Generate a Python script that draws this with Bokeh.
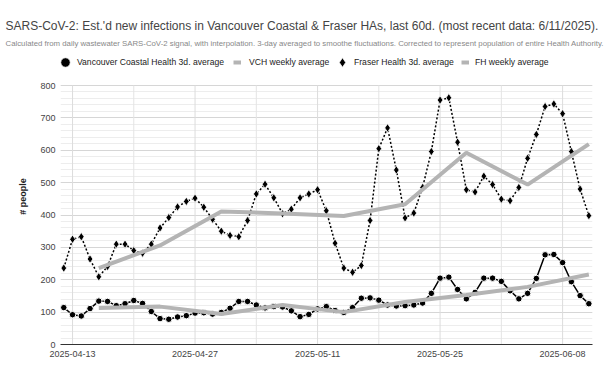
import pandas as pd
from bokeh.plotting import figure
from bokeh.models import (ColumnDataSource, Range1d, FixedTicker, DatetimeTickFormatter,
                          SingleIntervalTicker, Legend, LegendItem, Title)
from bokeh.embed import file_html
from bokeh.resources import INLINE

# ---------------- data ----------------
start_date = "2025-04-12"
n_days = 61
vch_3d = [114, 92, 88, 111, 134, 133, 120, 126, 136, 127,
          102, 80, 78, 85, 89, 97, 98, 94, 99, 112,
          133, 133, 122, 113, 117, 116, 104, 86, 93, 110,
          117, 105, 99, 114, 143, 144, 137, 122, 119, 120,
          122, 128, 158, 205, 208, 170, 141, 161, 205, 205,
          195, 166, 141, 158, 204, 277, 278, 253, 194, 151, 126]
fh_3d = [236, 325, 333, 264, 209, 241, 310, 310, 290, 282,
         310, 360, 392, 425, 442, 452, 424, 387, 350, 337,
         333, 383, 465, 495, 453, 404, 418, 453, 465, 478,
         413, 313, 236, 223, 244, 383, 605, 669, 539, 391,
         406, 485, 596, 755, 762, 625, 478, 471, 520, 494,
         449, 444, 485, 575, 649, 735, 743, 713, 596, 480, 398]
weekly_dates = ["2025-04-16", "2025-04-23", "2025-04-30", "2025-05-07", "2025-05-14",
                "2025-05-21", "2025-05-28", "2025-06-04", "2025-06-11"]
vch_weekly = [113, 117, 94, 122, 100, 131, 153, 178, 216]
fh_weekly = [236, 306, 411, 405, 397, 433, 592, 494, 619]
tick_dates = ["2025-04-13", "2025-04-27", "2025-05-11", "2025-05-25", "2025-06-08"]
minor_tick_dates = ["2025-04-20", "2025-05-04", "2025-05-18", "2025-06-01"]
y_max = 800

title_text = ("SARS-CoV-2: Est.'d new infections in Vancouver Coastal & Fraser HAs, "
              "last 60d. (most recent data: 6/11/2025).")
subtitle_text = ("Calculated from daily wastewater SARS-CoV-2 signal, with interpolation. "
                 "3-day averaged to smoothe fluctuations. Corrected to represent population "
                 "of entire Health Authority.")
legend_labels = ["Vancouver Coastal Health 3d. average", "VCH weekly average",
                 "Fraser Health 3d. average", "FH weekly average"]
y_label = "# people"

# ---------------- sources ----------------
dates = pd.date_range(start_date, periods=n_days, freq="D")
daily = ColumnDataSource(dict(date=dates, vch=vch_3d, fh=fh_3d))
weekly = ColumnDataSource(dict(date=pd.to_datetime(weekly_dates), vch=vch_weekly, fh=fh_weekly))
vgrid_major = ColumnDataSource(dict(x=pd.to_datetime(tick_dates),
                                    y0=[0] * len(tick_dates), y1=[y_max] * len(tick_dates)))
vgrid_minor = ColumnDataSource(dict(x=pd.to_datetime(minor_tick_dates),
                                    y0=[0] * len(minor_tick_dates),
                                    y1=[y_max] * len(minor_tick_dates)))

def ms(d):
    return pd.Timestamp(d).value // 10**6

FONT = "Liberation Sans"
GRAY = "#b4b4b4"

# layout in pixels: plot area from y=85 (800) to y=344 (0); frame extended up to y=48
FRAME_TOP, DATA_TOP, FRAME_BOTTOM = 48, 85, 344
y_top = y_max * (FRAME_BOTTOM - FRAME_TOP) / (FRAME_BOTTOM - DATA_TOP)

x0 = pd.Timestamp(start_date) - pd.Timedelta(hours=9)
x1 = dates[-1] + pd.Timedelta(hours=10)

p = figure(width=611, height=377, output_backend="svg", toolbar_location=None,
           x_axis_type="datetime", x_range=Range1d(x0, x1), y_range=Range1d(0, y_top),
           min_border_left=60, min_border_right=19, min_border_bottom=377 - FRAME_BOTTOM,
           min_border_top=FRAME_TOP)
p.outline_line_color = None
p.background_fill_color = "white"

# vertical grid lines (limited to the data area)
p.segment(x0="x", y0="y0", x1="x", y1="y1", source=vgrid_minor, line_color="#e4e4e4", line_width=1)
p.segment(x0="x", y0="y0", x1="x", y1="y1", source=vgrid_major, line_color="#dcdcdc", line_width=1)

# series
r_vch_line = p.line("date", "vch", source=daily, line_color="black", line_width=1.5)
r_vch_pts = p.scatter("date", "vch", source=daily, marker="circle", size=6.5,
                      fill_color="black", line_color="white", line_width=1)
r_vchw = p.line("date", "vch", source=weekly, line_color=GRAY, line_width=4)
r_fh_line = p.line("date", "fh", source=daily, line_color="black", line_width=1.5,
                   line_dash="2 2")
r_fh_pts = p.scatter("date", "fh", source=daily, marker="diamond", size=8.5,
                     fill_color="black", line_color="white", line_width=0.8)
r_fhw = p.line("date", "fh", source=weekly, line_color=GRAY, line_width=4)

# axes
p.xaxis.ticker = FixedTicker(ticks=[ms(d) for d in tick_dates],
                             minor_ticks=[ms(d) for d in minor_tick_dates])
fmt = "%Y-%m-%d"
p.xaxis.formatter = DatetimeTickFormatter(days=fmt, months=fmt, hours=fmt, years=fmt)
p.yaxis.ticker = SingleIntervalTicker(interval=100, num_minor_ticks=5)
p.yaxis.bounds = (0, y_max)

for ax in (p.xaxis, p.yaxis):
    ax.major_tick_line_color = None
    ax.minor_tick_line_color = None
    ax.major_tick_out = 0
    ax.minor_tick_out = 0
    ax.major_label_text_font = FONT
    ax.major_label_text_font_size = "9px"
    ax.major_label_text_color = "#444444"

p.xaxis.axis_line_color = "#333333"
p.xaxis.major_label_standoff = 6
p.yaxis.axis_line_color = None
p.yaxis.major_label_standoff = 5
p.yaxis.axis_label = y_label
p.yaxis.axis_label_text_font = FONT
p.yaxis.axis_label_text_font_size = "9px"
p.yaxis.axis_label_text_font_style = "bold"
p.yaxis.axis_label_text_color = "#222222"
p.yaxis.axis_label_standoff = 9

# grids
p.xgrid.visible = False
p.ygrid.bounds = (0, y_max)
p.ygrid.grid_line_color = "#d6d6d6"
p.ygrid.minor_grid_line_color = "#ededed"

# legend: one small legend per entry, placed in a row above the data area
LEG_Y = FRAME_BOTTOM - 74
legend_specs = [  # (label, renderer, x offset from frame left, glyph width, label standoff)
    (legend_labels[0], r_vch_pts, -7, 24, 0),
    (legend_labels[1], r_vchw, 173, 8, 8),
    (legend_labels[2], r_fh_pts, 270, 24, 0),
    (legend_labels[3], r_fhw, 401, 8, 6),
]
for label, rend, lx, gw, ls in legend_specs:
    lg = Legend(items=[LegendItem(label=label, renderers=[rend])],
                orientation="horizontal", location=(lx, LEG_Y),
                glyph_width=gw, glyph_height=24, label_standoff=ls, spacing=0,
                padding=0, margin=0, border_line_color=None, background_fill_alpha=0,
                click_policy="none", label_height=24,
                label_text_font=FONT, label_text_font_size="8.6px",
                label_text_color="#222222")
    p.add_layout(lg, "center")

p.add_layout(Title(text=subtitle_text, align="left", offset=-55, text_font=FONT,
                   text_font_size="7.8px", text_font_style="normal", text_color="#888888",
                   standoff=2), "above")
p.add_layout(Title(text=title_text, align="left", offset=-55, text_font=FONT,
                   text_font_size="12px", text_font_style="normal", text_color="#444444",
                   standoff=6), "above")

open("out.html", "w").write(file_html(p, INLINE))
